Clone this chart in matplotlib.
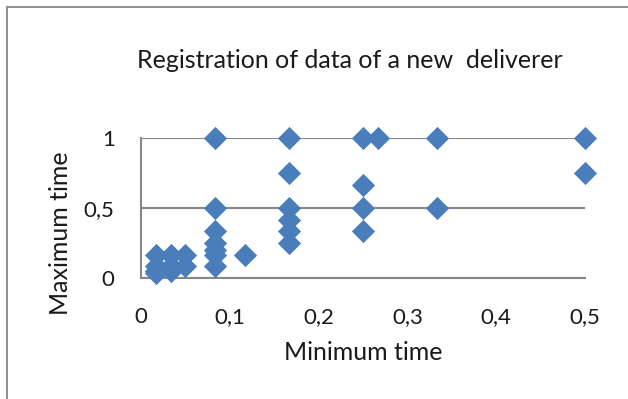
import matplotlib.pyplot as plt
from matplotlib.patches import Rectangle

# minimum / maximum delivery time per record (hours)
min_time = [
    0.0167, 0.0167, 0.0167, 0.0167,
    0.0333, 0.0333, 0.0333,
    0.05, 0.05,
    0.0833, 0.0833, 0.0833, 0.0833, 0.0833, 0.0833, 0.0833,
    0.1167,
    0.1667, 0.1667, 0.1667, 0.1667, 0.1667, 0.1667,
    0.25, 0.25, 0.25, 0.25,
    0.2667,
    0.3333, 0.3333,
    0.5, 0.5,
]
max_time = [
    0.1667, 0.0833, 0.05, 0.0333,
    0.1667, 0.0833, 0.05,
    0.1667, 0.0833,
    1.0, 0.5, 0.3333, 0.25, 0.2, 0.1667, 0.0833,
    0.1667,
    1.0, 0.75, 0.5, 0.4167, 0.3333, 0.25,
    1.0, 0.6667, 0.5, 0.3333,
    1.0,
    1.0, 0.5,
    1.0, 0.75,
]
x_ticks = [0, 0.1, 0.2, 0.3, 0.4, 0.5]
x_tick_labels = ["0", "0,1", "0,2", "0,3", "0,4", "0,5"]
y_ticks = [0, 0.5, 1]
y_tick_labels = ["0", "0,5", "1"]

W, H = 628, 399
plt.rcParams["font.family"] = ["Lato", "DejaVu Sans"]
grey = "#878787"
blue = "#4A7EBB"
ink = "#1a1a1a"

fig = plt.figure(figsize=(W / 100, H / 100), dpi=100)
fig.patch.set_facecolor("white")

# chart-area border (only left and top edges fall inside the image)
fig.add_artist(Rectangle((7 / W, -0.1), 1.2, 1 - 7 / H + 0.1, transform=fig.transFigure,
                         fill=False, edgecolor=grey, linewidth=1.3))

ax = fig.add_axes([141 / W, 1 - 278 / H, 444 / W, 140 / H])
ax.scatter(min_time, max_time, marker="D", s=140, color=blue, linewidths=0,
           clip_on=False, zorder=3)

ax.set_xlim(0, 0.5)
ax.set_ylim(0, 1)
ax.set_xticks(x_ticks, x_tick_labels)
ax.set_yticks(y_ticks, y_tick_labels)
ax.tick_params(length=0, labelsize=16, colors=ink)
ax.tick_params(axis="x", pad=21)
ax.tick_params(axis="y", pad=19)
ax.grid(axis="y", color=grey, linewidth=1.5)
ax.set_axisbelow(True)
for side in ("top", "right"):
    ax.spines[side].set_visible(False)
for side in ("left", "bottom"):
    ax.spines[side].set_color(grey)
    ax.spines[side].set_linewidth(1.5)

fig.text(350 / W, 1 - 61 / H, "Registration of data of a new  deliverer",
         ha="center", va="center", fontsize=18, color=ink)
fig.text(363 / W, 1 - 353 / H, "Minimum time", ha="center", va="center",
         fontsize=18, color=ink)
fig.text(60 / W, 1 - 233 / H, "Maximum time", ha="center", va="center",
         rotation=90, fontsize=18, color=ink)

fig.savefig("out.png", dpi=100)
